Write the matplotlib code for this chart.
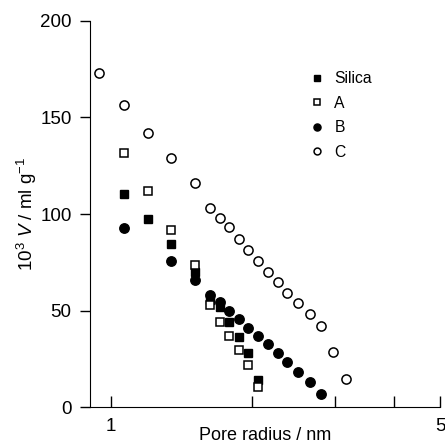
import matplotlib
matplotlib.use("Agg")
import matplotlib.pyplot as plt
from matplotlib.ticker import FixedLocator, FixedFormatter, NullLocator

plt.rcParams['font.family'] = ['Liberation Sans', 'DejaVu Sans']
plt.rcParams['mathtext.fontset'] = 'custom'
plt.rcParams['mathtext.rm'] = 'Liberation Sans'
plt.rcParams['mathtext.it'] = 'Liberation Sans:italic'

# pore radius (nm) and 10^3 V (ml/g)
silica_r = [1.067, 1.20, 1.345, 1.51, 1.625, 1.706, 1.783, 1.873, 1.957, 2.054]
silica_v = [110.3, 97.4, 84.4, 70.0, 55.5, 51.9, 44.1, 36.4, 28.1, 14.1]

a_r = [1.067, 1.20, 1.345, 1.51, 1.625, 1.706, 1.783, 1.873, 1.957, 2.054]
a_v = [131.5, 111.8, 91.7, 73.6, 52.9, 44.1, 36.9, 29.6, 21.9, 10.5]

b_r = [1.067, 1.345, 1.51, 1.625, 1.706, 1.783, 1.873, 1.957, 2.054, 2.158,
       2.261, 2.368, 2.504, 2.649, 2.796]
b_v = [92.7, 75.6, 65.8, 58.1, 54.4, 49.8, 45.7, 41.0, 36.9, 32.7,
       28.1, 23.4, 18.3, 13.1, 6.9]

c_r = [0.944, 1.067, 1.20, 1.345, 1.51, 1.625, 1.706, 1.783, 1.873, 1.957,
       2.054, 2.158, 2.261, 2.368, 2.504, 2.649, 2.796, 2.965, 3.159]
c_v = [172.9, 156.3, 141.8, 128.9, 116.0, 103.0, 97.9, 93.2, 87.0, 81.3,
       75.6, 70.0, 64.8, 59.1, 53.9, 48.2, 42.0, 28.6, 14.6]

xticks = [1, 2, 3, 4, 5]
xticklabels = ['1', '', '', '', '5']
yticks = [0, 50, 100, 150, 200]

fig = plt.figure(figsize=(4.45, 4.48), dpi=100)
ax = fig.add_axes([0.2022, 0.0908, 0.7866, 0.863])

ms = 6.2
ax.plot(silica_r, silica_v, 's', color='black', ms=ms, mew=1.0, label='Silica')
ax.plot(a_r, a_v, 's', mfc='white', mec='black', ms=ms, mew=1.1, label='A')
ax.plot(b_r, b_v, 'o', color='black', ms=ms + 0.6, mew=1.0, label='B')
ax.plot(c_r, c_v, 'o', mfc='white', mec='black', ms=ms + 0.4, mew=1.1, label='C')

ax.set_xscale('log')
ax.set_xlim(0.904, 5.0)
ax.set_ylim(0, 200)
ax.xaxis.set_major_locator(FixedLocator(xticks))
ax.xaxis.set_major_formatter(FixedFormatter(xticklabels))
ax.xaxis.set_minor_locator(NullLocator())
ax.set_yticks(yticks)

ax.spines['top'].set_visible(False)
ax.spines['right'].set_visible(False)
ax.tick_params(axis='x', direction='in', length=8, width=1, labelsize=13.5, pad=8)
ax.tick_params(axis='y', direction='out', length=7.2, width=1, labelsize=13.5, pad=6)

ax.set_xlabel('Pore radius / nm', fontsize=13)
ax.xaxis.set_label_coords(0.5, -0.05)
ax.set_ylabel('10$^3$ $\\it{V}$ / ml g$^{-1}$', fontsize=13.5)
ax.yaxis.set_label_coords(-0.146, 0.5)

ax.legend(loc='upper left', bbox_to_anchor=(0.674, 0.865), bbox_transform=fig.transFigure,
          frameon=False, fontsize=11.3, markerscale=0.75, handlelength=0.8,
          handletextpad=0.7, labelspacing=0.6, borderpad=0.2)

fig.savefig('out.png', dpi=100)
